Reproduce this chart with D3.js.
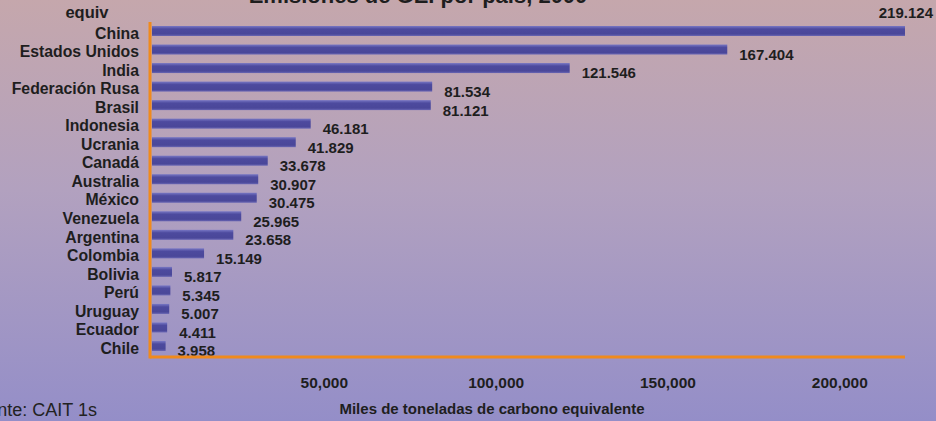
<!DOCTYPE html>
<html><head><meta charset="utf-8">
<script src="https://cdn.jsdelivr.net/npm/d3@7"></script>
<style>
html,body{margin:0;padding:0;overflow:hidden;background:#b0a0c0;}
svg{display:block;}
</style></head>
<body>
<svg id="chart" width="936" height="421"></svg>
<script>
const categories = ["China","Estados Unidos","India","Federación Rusa","Brasil","Indonesia","Ucrania","Canadá","Australia","México","Venezuela","Argentina","Colombia","Bolivia","Perú","Uruguay","Ecuador","Chile"];
const values = [219124,167404,121546,81534,81121,46181,41829,33678,30907,30475,25965,23658,15149,5817,5345,5007,4411,3958];
const tickValues = [50000,100000,150000,200000];
const titleText = "Emisiones de GEI por país, 2000";
const unitText = "equiv";
const axisTitle = "Miles de toneladas de carbono equivalente";
const sourceText = "Fuente: CAIT 1s";

const W = 936, H = 421;
const svg = d3.select("#chart");
const defs = svg.append("defs");
const bg = defs.append("linearGradient").attr("id","bg").attr("x1",0).attr("y1",0).attr("x2",0).attr("y2",1);
bg.append("stop").attr("offset","0%").attr("stop-color","#c5a7ac");
bg.append("stop").attr("offset","45%").attr("stop-color","#b2a1bf");
bg.append("stop").attr("offset","100%").attr("stop-color","#948ec8");
const bg2 = defs.append("linearGradient").attr("id","bar").attr("x1",0).attr("y1",0).attr("x2",0).attr("y2",1);
bg2.append("stop").attr("offset","0%").attr("stop-color","#7877c4");
bg2.append("stop").attr("offset","30%").attr("stop-color","#4d4a9e");
bg2.append("stop").attr("offset","80%").attr("stop-color","#4a4799");
bg2.append("stop").attr("offset","100%").attr("stop-color","#6a67b4");

svg.append("rect").attr("width",W).attr("height",H).attr("fill","url(#bg)");

const x = d3.scaleLinear().domain([0, d3.max(values)]).range([152, 905]);
const y = d3.scalePoint().domain(categories).range([31, 346]);
const barH = 10;
const font = "'Liberation Sans', Arial, sans-serif";
const narrow = "'Liberation Sans Narrow', 'Arial Narrow', 'Liberation Sans', sans-serif";

// title (cut at top in the reference)
svg.append("text").attr("x", 418).attr("y", 2.5).attr("text-anchor","middle")
  .attr("font-family", font).attr("font-weight","bold").attr("font-size",22).attr("fill","#1e1e1e")
  .text(titleText);
svg.append("text").attr("x", 87).attr("y", 18).attr("text-anchor","middle")
  .attr("font-family", font).attr("font-weight","bold").attr("font-size",16.5).attr("fill","#1e1e1e")
  .text(unitText);

// bars
svg.append("g").selectAll("rect").data(values).join("rect")
  .attr("x", x(0))
  .attr("y", (d,i) => y(categories[i]) - barH/2)
  .attr("width", d => x(d) - x(0))
  .attr("height", barH)
  .attr("fill","url(#bar)");

// category labels
svg.append("g").selectAll("text").data(categories).join("text")
  .attr("x", 139).attr("y", d => y(d) + 2).attr("dy","0.36em")
  .attr("text-anchor","end")
  .attr("font-family", font).attr("font-weight","bold").attr("font-size",15.8).attr("fill","#1e1e1e")
  .text(d => d);

// value labels
const fmt = v => d3.format(".3f")(v/1000);
svg.append("g").selectAll("text").data(values).join("text")
  .attr("font-family", font).attr("font-weight","bold").attr("font-size",15).attr("fill","#1e1e1e")
  .each(function(d,i){
    const t = d3.select(this).text(fmt(d));
    const cy = y(categories[i]);
    const tx = x(d) + 12;
    const w = this.getComputedTextLength();
    if (tx + w > W - 2) {
      t.attr("x", W - 3).attr("text-anchor","end").attr("y", cy - 18).attr("dy","0.36em");
    } else {
      t.attr("x", tx).attr("y", cy + 5).attr("dy","0.36em");
    }
  });

// x axis
const axisG = svg.append("g").attr("transform", `translate(0,${357})`);
const xAxis = d3.axisBottom(x).tickValues(tickValues).tickFormat(d3.format(",")).tickSize(0).tickPadding(20);
axisG.call(xAxis);
axisG.select(".domain").attr("stroke","#f08a1c").attr("stroke-width",3).attr("d", `M${150},0H${905}`);
axisG.selectAll(".tick text").attr("font-family", narrow).attr("font-weight","bold").attr("font-size",15.5).attr("fill","#1e1e1e");

svg.append("line").attr("x1",150).attr("x2",150).attr("y1",22).attr("y2",358.5)
  .attr("stroke","#f08a1c").attr("stroke-width",3);

svg.append("text").attr("x", 492).attr("y", 414).attr("text-anchor","middle")
  .attr("font-family", narrow).attr("font-weight","bold").attr("font-size",15).attr("fill","#1e1e1e")
  .text(axisTitle);

svg.append("text").attr("x", 97).attr("y", 416).attr("text-anchor","end")
  .attr("font-family", font).attr("font-size",18).attr("fill","#222")
  .text(sourceText);
</script>
</body></html>
